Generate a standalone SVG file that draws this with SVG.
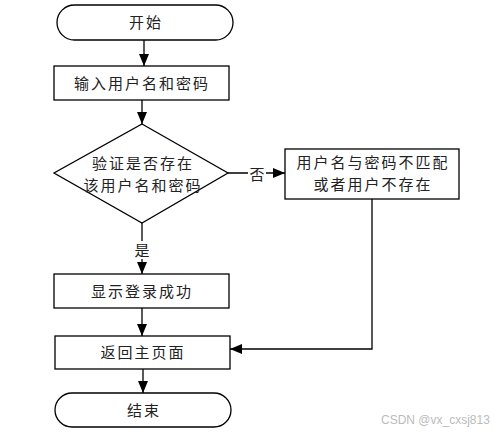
<svg xmlns="http://www.w3.org/2000/svg" width="500" height="434" viewBox="0 0 500 434">
<style>
.s{fill:#fff;stroke:#000;stroke-width:1.3}
.t{font-family:"Noto Sans CJK SC",sans-serif;font-size:15px;fill:#222;text-anchor:middle;letter-spacing:2px}
.c{fill:none;stroke:#000;stroke-width:1.3}
.wm{font-family:"Liberation Sans",sans-serif;font-size:12px;fill:#bbb}
</style>
<defs>
<marker id="ah" viewBox="0 0 12 10" refX="12" refY="5" markerWidth="12" markerHeight="10" markerUnits="userSpaceOnUse" orient="auto">
<path d="M0,0 L12,5 L0,10 Z" fill="#000"/>
</marker>
</defs>
<rect width="500" height="434" fill="#fff"/>
<g id="connectors">
<line class="c" x1="144" y1="40" x2="144" y2="66" marker-end="url(#ah)"/>
<line class="c" x1="142" y1="100" x2="142" y2="124" marker-end="url(#ah)"/>
<line class="c" x1="228" y1="173" x2="285" y2="173" marker-end="url(#ah)"/>
<rect x="248" y="164" width="18" height="18" fill="#fff"/>
<text class="t" x="258" y="180">否</text>
<line class="c" x1="142" y1="223" x2="142" y2="274" marker-end="url(#ah)"/>
<rect x="133" y="241" width="18" height="18" fill="#fff"/>
<text class="t" x="143" y="256">是</text>
<line class="c" x1="142" y1="308" x2="142" y2="336" marker-end="url(#ah)"/>
<polyline class="c" points="372,199 372,349 230,349" marker-end="url(#ah)"/>
<line class="c" x1="143" y1="369" x2="143" y2="393" marker-end="url(#ah)"/>
</g>
<g id="start">
<rect class="s" x="57" y="5" width="176" height="35" rx="17.5"/>
<text class="t" x="146" y="28">开始</text>
</g>
<g id="input">
<rect class="s" x="54" y="66" width="175" height="34"/>
<text class="t" x="142" y="89">输入用户名和密码</text>
</g>
<g id="verify">
<polygon class="s" points="142,124 228,173 142,223 54,173"/>
<text class="t" x="143" y="169">验证是否存在</text>
<text class="t" x="143" y="191">该用户名和密码</text>
</g>
<g id="fail">
<rect class="s" x="285" y="149" width="174" height="50"/>
<text class="t" x="373" y="168">用户名与密码不匹配</text>
<text class="t" x="373" y="190">或者用户不存在</text>
</g>
<g id="success">
<rect class="s" x="54" y="274" width="175" height="34"/>
<text class="t" x="142" y="297">显示登录成功</text>
</g>
<g id="home">
<rect class="s" x="55" y="336" width="175" height="33"/>
<text class="t" x="143" y="358">返回主页面</text>
</g>
<g id="end">
<rect class="s" x="55" y="393" width="176" height="34" rx="17"/>
<text class="t" x="144" y="416">结束</text>
</g>
<text class="wm" x="381" y="424">CSDN @vx_cxsj813</text>
</svg>
